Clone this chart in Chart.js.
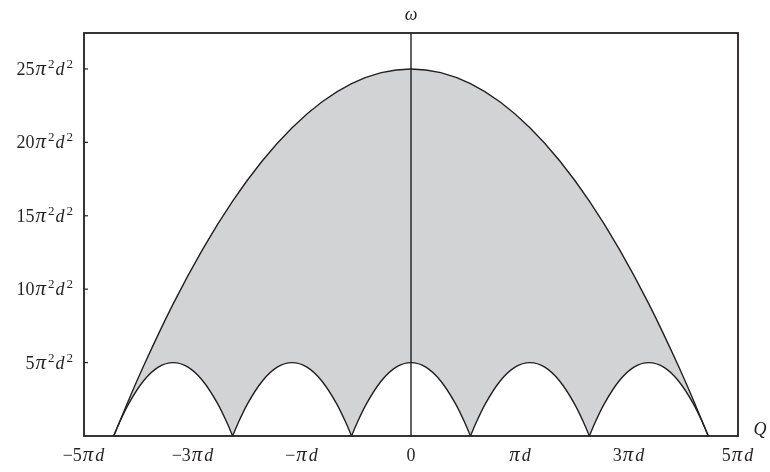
<!DOCTYPE html>
<html>
<head>
<meta charset="utf-8">
<script src="https://cdn.jsdelivr.net/npm/chart.js@4.4.1/dist/chart.umd.min.js"></script>
<style>
  html, body { margin: 0; padding: 0; background: #fff; }
  #wrap { width: 770px; height: 472px; }
</style>
</head>
<body>
<div id="wrap"><canvas id="myChart"></canvas></div>
<script>
// axis ticks
var xTickValues = [-5.5, -3.667, -1.833, 0, 1.833, 3.667, 5.5];
var xTickLabels = ['−5πd', '−3πd', '−πd', '0', 'πd', '3πd', '5πd'];
var yTickValues = [5, 10, 15, 20, 25];
var yTickLabels = ['5π²d²', '10π²d²', '15π²d²', '20π²d²', '25π²d²'];

// outer envelope
var outerQ = [-5, -4.75, -4.5, -4, -3.5, -3, -2.5, -2, -1.5, -1, -0.5, 0,
              0.5, 1, 1.5, 2, 2.5, 3, 3.5, 4, 4.5, 4.75, 5];
var outerW = [0, 2.44, 4.75, 9, 12.75, 16, 18.75, 21, 22.75, 24, 24.75, 25,
              24.75, 24, 22.75, 21, 18.75, 16, 12.75, 9, 4.75, 2.44, 0];

// small arches: centres and one arch profile
var archCentres = [-4, -2, 0, 2, 4];
var archDq = [-1, -0.9, -0.75, -0.5, -0.25, 0, 0.25, 0.5, 0.75, 0.9, 1];
var archW = [0, 0.95, 2.19, 3.75, 4.69, 5, 4.69, 3.75, 2.19, 0.95, 0];

var ink = '#231f20';
var serif = '"Liberation Serif", "DejaVu Serif", serif';

function pts(xs, ys, dx) {
    return xs.map(function (x, i) { return { x: x + (dx || 0), y: ys[i] }; });
}

var datasets = archCentres.map(function (c) {
    return {
        data: pts(archDq, archW, c),
        borderColor: ink,
        borderWidth: 1.4,
        backgroundColor: '#ffffff',
        fill: 'origin',
        pointRadius: 0,
        cubicInterpolationMode: 'monotone'
    };
});
datasets.push({
    data: pts(outerQ, outerW),
    borderColor: ink,
    borderWidth: 1.4,
    backgroundColor: '#d1d3d4',
    fill: 'origin',
    pointRadius: 0,
    cubicInterpolationMode: 'monotone'
});

// text with italic letters and superscripts, y is the visual middle
function drawRich(ctx, text, x, y, align) {
    var size = 18;
    var parts = [];
    for (var ch of text) {
        if (ch === '²') {
            parts.push({ t: '2', font: '13px ' + serif, dy: -7, pre: 1, post: 0 });
        } else if (ch === 'π') {
            parts.push({ t: ch, font: 'italic 21px ' + serif, dy: 0, pre: 1, post: 1 });
        } else if (/[dQω]/.test(ch)) {
            parts.push({ t: ch, font: 'italic ' + size + 'px ' + serif, dy: 0, pre: 1, post: 1 });
        } else {
            parts.push({ t: ch, font: size + 'px ' + serif, dy: 0, pre: 0, post: 0 });
        }
    }
    var total = 0;
    parts.forEach(function (p) {
        ctx.font = p.font;
        p.w = ctx.measureText(p.t).width;
        total += p.pre + p.w + p.post;
    });
    var cx = align === 'right' ? x - total : align === 'center' ? x - total / 2 : x;
    var base = y + size * 0.33;
    ctx.textAlign = 'left';
    ctx.textBaseline = 'alphabetic';
    ctx.fillStyle = ink;
    parts.forEach(function (p) {
        ctx.font = p.font;
        cx += p.pre;
        ctx.fillText(p.t, cx, base + p.dy);
        cx += p.w + p.post;
    });
}

var framePlugin = {
    id: 'frame',
    afterDatasetsDraw: function (chart) {
        var ctx = chart.ctx;
        var a = chart.chartArea;
        var xs = chart.scales.x;
        var ys = chart.scales.y;
        ctx.save();
        ctx.strokeStyle = ink;

        // vertical line at Q = 0
        var x0 = xs.getPixelForValue(0);
        ctx.lineWidth = 1.4;
        ctx.beginPath();
        ctx.moveTo(x0, a.top);
        ctx.lineTo(x0, a.bottom);
        ctx.stroke();

        // box
        ctx.lineWidth = 1.8;
        ctx.strokeRect(a.left, a.top, a.right - a.left, a.bottom - a.top);

        // inward y ticks and labels
        ctx.lineWidth = 1.2;
        yTickValues.forEach(function (v, i) {
            var py = ys.getPixelForValue(v);
            ctx.beginPath();
            ctx.moveTo(a.left, py);
            ctx.lineTo(a.left + 4, py);
            ctx.stroke();
            drawRich(ctx, yTickLabels[i], a.left - 11, py, 'right');
        });

        xTickValues.forEach(function (v, i) {
            drawRich(ctx, xTickLabels[i], xs.getPixelForValue(v), a.bottom + 19, 'center');
        });

        drawRich(ctx, 'ω', x0, 14, 'center');
        drawRich(ctx, 'Q', a.right + 22, a.bottom - 7, 'center');
        ctx.restore();
    }
};

new Chart(document.getElementById('myChart'), {
    type: 'line',
    data: { datasets: datasets },
    options: {
        responsive: true,
        maintainAspectRatio: false,
        devicePixelRatio: 1,
        animation: false,
        layout: { padding: { left: 84, top: 33, right: 32, bottom: 36 } },
        scales: {
            x: {
                type: 'linear',
                min: -5.5,
                max: 5.5,
                display: false,
                afterBuildTicks: function (scale) {
                    scale.ticks = xTickValues.map(function (v) { return { value: v }; });
                }
            },
            y: {
                type: 'linear',
                min: 0,
                max: 27.45,
                display: false,
                afterBuildTicks: function (scale) {
                    scale.ticks = yTickValues.map(function (v) { return { value: v }; });
                }
            }
        },
        plugins: {
            legend: { display: false },
            tooltip: { enabled: false },
            filler: { drawTime: 'beforeDatasetsDraw' }
        }
    },
    plugins: [framePlugin]
});
</script>
</body>
</html>
